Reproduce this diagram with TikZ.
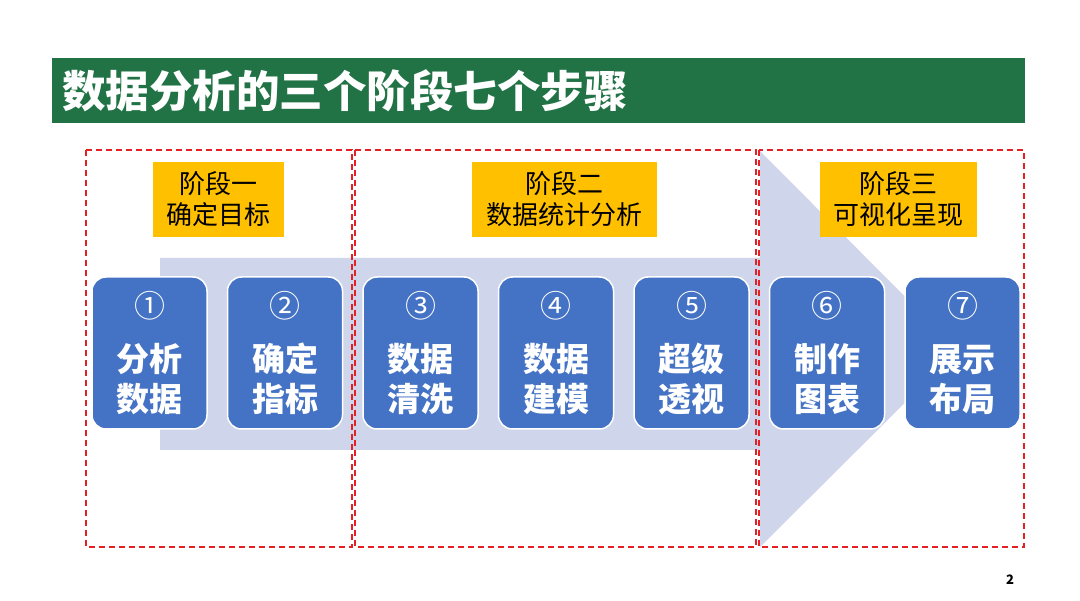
\documentclass[tikz,border=0pt]{standalone}
\usepackage{fontspec}
\setmainfont{Noto Sans CJK SC}
\usetikzlibrary{positioning}

\definecolor{titlegreen}{RGB}{33,115,70}
\definecolor{stageyellow}{RGB}{255,192,0}
\definecolor{stepblue}{RGB}{68,114,196}
\definecolor{arrowgrey}{RGB}{207,213,234}
\definecolor{framered}{RGB}{228,32,36}

\begin{document}
\begin{tikzpicture}[
    x=1pt, y=-1pt,
    titlebar/.style={fill=titlegreen, text=white, anchor=north west,
        text width=953pt, inner xsep=10pt, inner ysep=0pt, minimum height=65pt,
        font=\fontsize{43.5}{43.5}\selectfont\bfseries},
    stagelabel/.style={fill=stageyellow, align=center, inner sep=0pt,
        minimum height=75pt, font=\fontsize{26}{31}\selectfont},
    stepbox/.style={draw=white, line width=1.5pt, fill=stepblue, rounded corners=14pt,
        minimum width=115pt, minimum height=152pt, inner sep=0pt, text=white,
        align=center, font=\fontsize{33}{40}\selectfont\bfseries}
    ,
    phaseframe/.style={draw=framered, line width=1.3pt, dash pattern=on 6pt off 4pt}
]
\useasboundingbox[fill=white] (0,0) rectangle (1080,601);

% Title
\node[titlebar] (title) at (52,58) {数据分析的三个阶段七个步骤};

% Big arrow behind the steps
\fill[arrowgrey] (160,258) -- (760,258) -- (760,151) -- (958,350)
    -- (760,547) -- (760,450) -- (160,450) -- cycle;

% Phase frames
\draw[phaseframe] (86,150) rectangle (352,547);
\draw[phaseframe] (355,150) rectangle (756,547);
\draw[phaseframe] (759,150) rectangle (1024,547);

% Phase labels
\node[stagelabel, minimum width=131pt] (phase1) at (218.5,199.5) {阶段一\\确定目标};
\node[stagelabel, minimum width=185pt] (phase2) at (564.5,199.5) {阶段二\\数据统计分析};
\node[stagelabel, minimum width=157pt] (phase3) at (898.5,199.5) {阶段三\\可视化呈现};

% Steps
\node[stepbox] (s1) at (149.5,353) {{\mdseries\fontsize{31}{31}\selectfont ①}\\[14pt]分析\\数据};
\node[stepbox, right=19pt of s1] (s2) {{\mdseries\fontsize{31}{31}\selectfont ②}\\[14pt]确定\\指标};
\node[stepbox, right=19pt of s2] (s3) {{\mdseries\fontsize{31}{31}\selectfont ③}\\[14pt]数据\\清洗};
\node[stepbox, right=19pt of s3] (s4) {{\mdseries\fontsize{31}{31}\selectfont ④}\\[14pt]数据\\建模};
\node[stepbox, right=19pt of s4] (s5) {{\mdseries\fontsize{31}{31}\selectfont ⑤}\\[14pt]超级\\透视};
\node[stepbox, right=19pt of s5] (s6) {{\mdseries\fontsize{31}{31}\selectfont ⑥}\\[14pt]制作\\图表};
\node[stepbox, right=19pt of s6] (s7) {{\mdseries\fontsize{31}{31}\selectfont ⑦}\\[14pt]展示\\布局};

% Page number
\node[font=\fontsize{13}{13}\selectfont\bfseries] (page) at (1010,580) {2};
\end{tikzpicture}
\end{document}
